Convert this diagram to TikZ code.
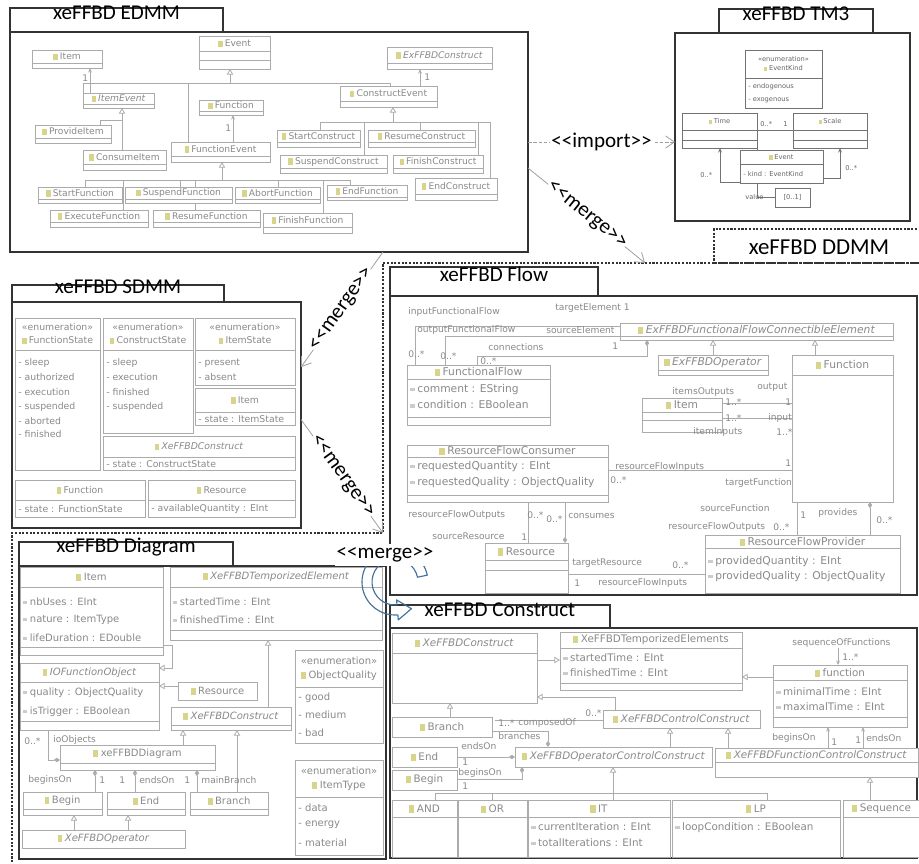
\documentclass[tikz,border=0pt]{standalone}
\usepackage{fontspec}
\newfontfamily\cfont{Carlito}
\newfontfamily\umlfont{DejaVu Sans}
\usetikzlibrary{arrows.meta,calc,fit}
\definecolor{icony}{HTML}{D8D48C}
\definecolor{utext}{HTML}{8A8A8A}
\definecolor{ulinec}{HTML}{ABABAB}
\definecolor{mblue}{HTML}{41719C}
\newcommand\ic{\textcolor{icony}{\rule[-0.1ex]{0.9ex}{1.25ex}}\hspace{0.45ex}}
\newcommand\ai{\textcolor{gray!40}{\rule[0.25ex]{0.75ex}{0.55ex}}\hspace{0.45ex}}
\newcommand\ufs{\fontsize{5.4}{7}\selectfont}
\newcommand\lfs{\fontsize{5.2}{6}\selectfont}
\newcommand\umlc[7]{%
  \node[ubox, fit={(#2,#3)(#4,#5)}] (#1) {};
  \node[uhdr] at ($(#1.north)+(0,#7/2)$) {#6};
  \draw[usep] ($(#1.north west)+(0,#7)$) -- ($(#1.north east)+(0,#7)$);}
\newcommand\umla[3]{\node[uattr] at ($(#1.north west)+(3,#2)$) {#3};}
\newcommand\umls[2]{\draw[usep] ($(#1.north west)+(0,#2)$) -- ($(#1.north east)+(0,#2)$);}
\tikzset{
  ubox/.style={draw=ulinec, line width=0.45pt, fill=white, inner sep=0pt, outer sep=0pt},
  uhdr/.style={font=\umlfont\ufs, text=utext, inner sep=0pt, align=center},
  uattr/.style={font=\umlfont\ufs, text=utext, inner sep=0pt, anchor=west},
  usep/.style={draw=ulinec, line width=0.4pt},
  ul/.style={draw=ulinec, line width=0.45pt},
  gen/.style={ul, -{Triangle[open, length=3.2pt, width=3.6pt]}},
  comp/.style={ul, -{Diamond[length=3.6pt, width=2.4pt]}},
  nav/.style={ul, -{Stealth[length=2.6pt, width=2.2pt]}},
  lbl/.style={font=\umlfont\lfs, text=utext, inner sep=0pt, anchor=west},
  pkgframe/.style={draw=black!80, line width=0.75pt, inner sep=0pt, outer sep=0pt},
  pkgtab/.style={pkgframe, font=\cfont\fontsize{12}{14}\selectfont},
  ddash/.style={draw=black!80, line width=0.6pt, dash pattern=on 1.2pt off 0.9pt},
  rel/.style={draw=gray!75, line width=0.45pt, -{Straight Barb[length=5pt, width=7pt]}},
  reltxt/.style={font=\cfont\fontsize{12}{14}\selectfont, fill=white, inner sep=0.5pt},
}
\begin{document}
\begin{tikzpicture}[x=0.02cm, y=-0.02cm]
\useasboundingbox (0,0) rectangle (919,864);
\fill[white] (0,0) rectangle (919,864);
\clip (0,0) rectangle (919,864);

% ---------------- package frames ----------------
\node[pkgtab, fit={(10,8)(223,32)}] (edmmTab) {xeFFBD EDMM};
\node[pkgframe, fit={(10,32)(528,252)}] (edmm) {};
\node[pkgtab, fit={(719,9)(873,33)}] (tm3Tab) {xeFFBD TM3};
\node[pkgframe, fit={(675,33)(910,221)}] (tm3) {};
\node[pkgtab, fit={(12,285)(224,302)}] (sdmmTab) {xeFFBD SDMM};
\node[pkgframe, fit={(12,302)(301,528)}] (sdmm) {};
\node[pkgtab, fit={(390,267)(598,296)}] (flowTab) {xeFFBD Flow};
\node[pkgframe, fit={(390,296)(917,595)}] (flow) {};
\node[pkgtab, fit={(19,542)(233,566)}] (diagTab) {xeFFBD Diagram};
\node[pkgframe, fit={(19,566)(386,859)}] (diag) {};
\node[pkgtab, fit={(390,605)(610,628)}] (consTab) {xeFFBD Construct};
\node[pkgframe, fit={(390,628)(917,858)}] (cons) {};
% DDMM (dashed)
\node[pkgframe, ddash, fit={(714,229)(935,263)}] (ddmmTab) {};
\node[font=\cfont\fontsize{13}{15}\selectfont, inner sep=0pt] (ddmmTxt) at (819,247) {xeFFBD DDMM};
\draw[ddash] (935,263) -- (383,263) -- (383,533) -- (12,533) -- (12,870);
\coordinate (ddmmTop) at (645,263);
\coordinate (ddmmCorner) at (383,533);

% ---------------- EDMM content ----------------
\begin{scope}
\renewcommand\ufs{\fontsize{5.2}{6.5}\selectfont}
\renewcommand\lfs{\fontsize{5.2}{6.5}\selectfont}
\draw[ul] (83,93) -- (83,83) -- (390,83) -- (390,86);
\draw[ul] (188,83) -- (188,142);
\draw[gen] (230,83) -- (230,69);
\draw[nav] (90,93) -- (90,68);
\draw[ul] (100,125) |- (122,120) -- (122,150);
\draw[gen] (122,120) -- (122,108);
\draw[nav] (233,142) -- (233,115);
\draw[ul] (85,187) |- (350,180) -- (350,185);
\draw[ul] (123,180) -- (123,210);
\draw[ul] (180,180) -- (180,187);
\draw[ul] (195,180) -- (195,210);
\draw[ul] (278,180) -- (278,187);
\draw[ul] (323,180) -- (323,213);
\draw[gen] (222,180) -- (222,162);
\draw[ul] (320,130) |- (490,122) -- (490,178);
\draw[ul] (364,122) -- (364,155);
\draw[ul] (420,122) -- (420,130);
\draw[ul] (478,122) -- (478,155);
\draw[gen] (393,122) -- (393,107);
\draw[nav] (420,86) -- (420,69);
\umlc{eItem}{32}{50}{102}{68}{\ic Item}{13}
\umlc{eEvent}{199}{36}{270}{69}{\ic Event}{15}
\umls{eEvent}{24}
\umlc{eExC}{387}{47}{492}{69}{\ic\textit{ExFFBDConstruct}}{16}
\umlc{eItemEv}{83}{93}{154}{108}{\ic\textit{ItemEvent}}{11}
\umlc{eFunc}{199}{100}{263}{115}{\ic Function}{11}
\umlc{eConsEv}{340}{86}{437}{107}{\ic ConstructEvent}{15}
\umlc{eProv}{35}{125}{111}{143}{\ic ProvideItem}{13}
\umlc{eCons}{83}{150}{166}{170}{\ic ConsumeItem}{14}
\umlc{eFuncEv}{171}{142}{270}{162}{\ic FunctionEvent}{14}
\umlc{eStartC}{277}{130}{360}{147}{\ic StartConstruct}{12}
\umlc{eResC}{368}{130}{475}{147}{\ic ResumeConstruct}{12}
\umlc{eSusC}{280}{155}{387}{173}{\ic SuspendConstruct}{13}
\umlc{eFinC}{393}{155}{483}{173}{\ic FinishConstruct}{13}
\umlc{eEndC}{415}{178}{497}{200}{\ic EndConstruct}{16}
\umlc{eStartF}{38}{187}{122}{203}{\ic StartFunction}{12}
\umlc{eSusF}{125}{187}{232}{203}{\ic SuspendFunction}{12}
\umlc{eAbF}{235}{187}{320}{203}{\ic AbortFunction}{12}
\umlc{eEndF}{327}{185}{407}{200}{\ic EndFunction}{12}
\umlc{eExF}{50}{210}{148}{227}{\ic ExecuteFunction}{12}
\umlc{eResF}{153}{210}{260}{227}{\ic ResumeFunction}{12}
\umlc{eFinF}{263}{213}{352}{233}{\ic FinishFunction}{14}
\node[lbl] at (82,78) {1};
\node[lbl] at (225,128) {1};
\node[lbl] at (424,77) {1};
\end{scope}

% ---------------- TM3 content ----------------
\begin{scope}
\colorlet{ulinec}{black!55}
\colorlet{utext}{black!60}
\renewcommand\ufs{\fontsize{3.8}{5.2}\selectfont}
\renewcommand\lfs{\fontsize{3.8}{5}\selectfont}
\draw[nav] (720,182) -- (720,148);
\draw[ul] (720,182) -- (740,182);
\draw[nav] (823,178) -| (840,148);
\draw[ul] (757,130) -- (793,130);
\draw[ul] (757,148) |- (775,197);
\umlc{tEnum}{745}{50}{822}{108}{«enumeration»\\\ic EventKind}{28}
\umla{tEnum}{37}{- endogenous}
\umla{tEnum}{50}{- exogenous}
\umlc{tTime}{682}{113}{757}{148}{\ic Time}{17}
\umls{tTime}{27}
\umlc{tScale}{793}{113}{867}{148}{\ic Scale}{17}
\umls{tScale}{27}
\umlc{tEvent}{740}{150}{823}{183}{\ic Event}{14}
\umla{tEvent}{24}{- kind : EventKind}
\umlc{tW}{775}{188}{810}{207}{[0..1]}{19}
\node[lbl] at (760,124) {0..*};
\node[lbl] at (783,124) {1};
\node[lbl] at (700,175) {0..*};
\node[lbl] at (845,168) {0..*};
\node[lbl] at (745,197) {value};
\end{scope}

% ---------------- SDMM content ----------------
\begin{scope}
\renewcommand\ufs{\fontsize{5.3}{7.4}\selectfont}
\umlc{sFS}{15}{318}{100}{470}{«enumeration»\\\ic FunctionState}{32}
\umla{sFS}{45}{- sleep}
\umla{sFS}{59}{- authorized}
\umla{sFS}{74}{- execution}
\umla{sFS}{89}{- suspended}
\umla{sFS}{103}{- aborted}
\umla{sFS}{116}{- finished}
\umlc{sCS}{103}{318}{193}{433}{«enumeration»\\\ic ConstructState}{32}
\umla{sCS}{45}{- sleep}
\umla{sCS}{59}{- execution}
\umla{sCS}{74}{- finished}
\umla{sCS}{89}{- suspended}
\umlc{sIS}{195}{318}{295}{385}{«enumeration»\\\ic ItemState}{32}
\umla{sIS}{45}{- present}
\umla{sIS}{59}{- absent}
\umlc{sItem}{195}{388}{295}{425}{\ic Item}{24}
\umla{sItem}{31}{- state : ItemState}
\umlc{sXC}{103}{436}{295}{470}{\ic\textit{XeFFBDConstruct}}{21}
\umla{sXC}{28}{- state : ConstructState}
\umlc{sFunc}{15}{480}{145}{517}{\ic Function}{20}
\umla{sFunc}{29}{- state : FunctionState}
\umlc{sRes}{148}{480}{295}{517}{\ic Resource}{20}
\umla{sRes}{29}{- availableQuantity : EInt}
\end{scope}

% ---------------- Flow content ----------------
\begin{scope}
\renewcommand\ufs{\fontsize{6.1}{7.5}\selectfont}
\draw[ul] (415,365) |- (620,326);
\draw[ul] (445,365) |- (620,336);
\draw[comp] (477,365) -- (477,356) -| (647,340);
\draw[gen] (713,355) -- (713,340);
\draw[gen] (815,355) -- (815,340);
\draw[ul] (722,403) -- (792,403);
\draw[ul] (722,418) -- (792,418);
\draw[ul] (608,470) -- (792,470);
\draw[ul] (528,502) -- (528,543);
\draw[comp] (565,502) -- (565,543);
\draw[ul] (568,574) -- (705,574);
\draw[ul] (797,502) -- (797,535);
\draw[comp] (870,535) -- (870,502);
\umlc{fEl}{620}{323}{893}{340}{\ic\textit{ExFFBDFunctionalFlowConnectibleElement}}{13}
\umlc{fFF}{407}{365}{550}{425}{\ic FunctionalFlow}{14}
\umla{fFF}{25}{\ai comment : EString}
\umla{fFF}{40}{\ai condition : EBoolean}
\umls{fFF}{52}
\umlc{fOp}{658}{355}{768}{375}{\ic\textit{ExFFBDOperator}}{15}
\umlc{fFunc}{792}{355}{893}{502}{\ic Function}{20}
\umlc{fItem}{642}{398}{722}{432}{\ic Item}{14}
\umls{fItem}{22}
\umlc{fRFC}{407}{445}{608}{502}{\ic ResourceFlowConsumer}{12}
\umla{fRFC}{22}{\ai requestedQuantity : EInt}
\umla{fRFC}{38}{\ai requestedQuality : ObjectQuality}
\umls{fRFC}{50}
\umlc{fRes}{485}{543}{568}{593}{\ic Resource}{17}
\umls{fRes}{27}
\umlc{fRFP}{705}{535}{900}{593}{\ic ResourceFlowProvider}{13}
\umla{fRFP}{27}{\ai providedQuantity : EInt}
\umla{fRFP}{42}{\ai providedQuality : ObjectQuality}
\node[lbl] at (408,312) {inputFunctionalFlow};
\node[lbl] at (417,330) {outputFunctionalFlow};
\node[lbl] at (555,308) {targetElement 1};
\node[lbl] at (546,330) {sourceElement};
\node[lbl] at (488,347) {connections};
\node[lbl] at (612,346) {1};
\node[lbl] at (408,354) {0..*};
\node[lbl] at (440,356) {0..*};
\node[lbl] at (480,361) {0..*};
\node[lbl] at (672,392) {itemsOutputs};
\node[lbl] at (757,387) {output};
\node[lbl] at (725,402) {1..*};
\node[lbl] at (785,402) {1};
\node[lbl] at (725,418) {1..*};
\node[lbl] at (768,418) {input};
\node[lbl] at (693,432) {itemInputs};
\node[lbl] at (776,432) {1..*};
\node[lbl] at (615,467) {resourceFlowInputs};
\node[lbl] at (785,463) {1};
\node[lbl] at (610,480) {0..*};
\node[lbl] at (725,483) {targetFunction};
\node[lbl] at (408,515) {resourceFlowOutputs};
\node[lbl] at (527,515) {0..*};
\node[lbl] at (546,519) {0..*};
\node[lbl] at (568,516) {consumes};
\node[lbl] at (700,508) {sourceFunction};
\node[lbl] at (800,515) {1};
\node[lbl] at (818,513) {provides};
\node[lbl] at (876,520) {0..*};
\node[lbl] at (668,527) {resourceFlowOutputs};
\node[lbl] at (773,527) {0..*};
\node[lbl] at (432,536) {sourceResource};
\node[lbl] at (521,537) {1};
\node[lbl] at (572,563) {targetResource};
\node[lbl] at (672,565) {0..*};
\node[lbl] at (574,583) {1};
\node[lbl] at (598,583) {resourceFlowInputs};
\end{scope}

% ---------------- Diagram content ----------------
\begin{scope}
\renewcommand\ufs{\fontsize{5.7}{8}\selectfont}
\draw[gen] (163,645) -| (172,668) -- (159,668);
\draw[gen] (178,686) -- (159,686);
\draw[gen] (268,707) -- (268,640);
\draw[gen] (183,745) -- (183,730);
\draw[gen] (237,792) -- (237,730);
\draw[comp] (95,792) -- (95,770);
\draw[comp] (135,792) -- (135,770);
\draw[comp] (197,792) -- (197,770);
\draw[comp] (48,730) |- (60,760);
\draw[gen] (74,830) -- (74,815);
\draw[gen] (128,830) -- (128,815);
\umlc{dItem}{20}{567}{163}{655}{\ic Item}{20}
\umla{dItem}{35}{\ai nbUses : EInt}
\umla{dItem}{53}{\ai nature : ItemType}
\umla{dItem}{71}{\ai lifeDuration : EDouble}
\umls{dItem}{80}
\umlc{dIO}{20}{663}{159}{730}{\ic\textit{IOFunctionObject}}{19}
\umla{dIO}{30}{\ai quality : ObjectQuality}
\umla{dIO}{49}{\ai isTrigger : EBoolean}
\umls{dIO}{58}
\umlc{dTE}{170}{567}{382}{640}{\ic\textit{XeFFBDTemporizedElement}}{20}
\umla{dTE}{35}{\ai startedTime : EInt}
\umla{dTE}{53}{\ai finishedTime : EInt}
\umls{dTE}{63}
\umlc{dRes}{178}{682}{257}{700}{\ic Resource}{18}
\umlc{dXC}{171}{707}{291}{730}{\ic\textit{XeFFBDConstruct}}{18}
\umlc{dOQ}{295}{650}{383}{743}{«enumeration»\\\ic ObjectQuality}{37}
\umla{dOQ}{48}{- good}
\umla{dOQ}{65}{- medium}
\umla{dOQ}{83}{- bad}
\umlc{dIT}{295}{760}{383}{855}{«enumeration»\\\ic ItemType}{37}
\umla{dIT}{48}{- data}
\umla{dIT}{65}{- energy}
\umla{dIT}{83}{- material}
\umlc{dDiag}{60}{745}{215}{770}{\ic xeFFBDDiagram}{18}
\umlc{dBegin}{23}{792}{102}{815}{\ic Begin}{17}
\umlc{dEnd}{107}{792}{185}{815}{\ic End}{17}
\umlc{dBranch}{190}{792}{268}{815}{\ic Branch}{17}
\umlc{dOp}{22}{830}{185}{848}{\ic\textit{XeFFBDOperator}}{18}
\node[lbl] at (24,741) {0..*};
\node[lbl] at (53,740) {ioObjects};
\node[lbl] at (28,780) {beginsOn};
\node[lbl] at (99,780) {1};
\node[lbl] at (119,780) {1};
\node[lbl] at (139,780) {endsOn};
\node[lbl] at (184,780) {1};
\node[lbl] at (201,780) {mainBranch};
\end{scope}

% ---------------- Construct content ----------------
\begin{scope}
\renewcommand\ufs{\fontsize{5.9}{7.5}\selectfont}
\draw[gen] (537,660) -- (560,660);
\draw[gen] (615,710) |- (537,697);
\draw[gen] (450,717) -- (450,703);
\draw[ul] (603,720) -- (495,720);
\draw[comp] (492,731) -| (548,747);
\draw[comp] (457,757) -- (515,757);
\draw[comp] (457,779) -| (522,767);
\draw[gen] (670,747) -- (670,728);
\draw[gen] (728,748) -- (728,728);
\draw[ul] (435,800) |- (767,793) -- (767,800);
\draw[ul] (492,800) -- (492,793);
\draw[gen] (613,800) -- (613,767);
\draw[gen] (870,800) -- (870,777);
\draw[gen] (773,677) -- (742,677);
\draw[nav] (828,748) -- (828,727);
\draw[nav] (863,748) -- (863,727);
\draw[nav] (838,648) -- (838,665);
\umlc{cXC}{392}{633}{537}{703}{\ic\textit{XeFFBDConstruct}}{20}
\umlc{cTE}{560}{632}{742}{690}{\ic XeFFBDTemporizedElements}{16}
\umla{cTE}{26}{\ai startedTime : EInt}
\umla{cTE}{41}{\ai finishedTime : EInt}
\umls{cTE}{51}
\umlc{cFn}{773}{665}{907}{727}{\ic function}{15}
\umla{cFn}{27}{\ai minimalTime : EInt}
\umla{cFn}{42}{\ai maximalTime : EInt}
\umls{cFn}{52}
\umlc{cCC}{603}{710}{760}{728}{\ic\textit{XeFFBDControlConstruct}}{18}
\umlc{cBranch}{392}{717}{492}{737}{\ic Branch}{20}
\umlc{cEnd}{392}{747}{457}{767}{\ic End}{20}
\umlc{cBegin}{392}{770}{457}{790}{\ic Begin}{20}
\umlc{cOCC}{515}{747}{712}{767}{\ic\textit{XeFFBDOperatorControlConstruct}}{20}
\umlc{cFCC}{715}{748}{918}{777}{\ic\textit{XeFFBDFunctionControlConstruct}}{14}
\umlc{cAND}{392}{800}{457}{857}{\ic AND}{17}
\umlc{cOR}{458}{800}{527}{857}{\ic OR}{17}
\umlc{cIT}{528}{800}{670}{857}{\ic IT}{17}
\umla{cIT}{27}{\ai currentIteration : EInt}
\umla{cIT}{43}{\ai totalIterations : EInt}
\umlc{cLP}{672}{800}{840}{857}{\ic LP}{17}
\umla{cLP}{28}{\ai loopCondition : EBoolean}
\umlc{cSeq}{843}{800}{920}{857}{\ic Sequence}{17}
\node[lbl] at (792,643) {sequenceOfFunctions};
\node[lbl] at (842,657) {1..*};
\node[lbl] at (498,723) {1..*};
\node[lbl] at (518,723) {composedOf};
\node[lbl] at (585,713) {0..*};
\node[lbl] at (498,736) {branches};
\node[lbl] at (461,746) {endsOn};
\node[lbl] at (462,762) {1};
\node[lbl] at (458,773) {beginsOn};
\node[lbl] at (462,786) {1};
\node[lbl] at (772,738) {beginsOn};
\node[lbl] at (831,742) {1};
\node[lbl] at (855,740) {1};
\node[lbl] at (866,738) {endsOn};
\end{scope}

% ---------------- package relations ----------------
\draw[rel, dash pattern=on 2pt off 1pt] (edmm.east) -- (edmm.east -| tm3.west)
  node[midway, reltxt] {<<import>>};
\draw[rel] ($(edmm.north east)!0.618!(edmm.south east)$) -- (ddmmTop)
  node[midway, sloped, reltxt] {<<merge>>};
\draw[rel] ($(edmm.south west)!0.72!(edmm.south east)$) -- ($(sdmm.north east)!0.288!(sdmm.south east)$)
  node[midway, sloped, reltxt] {<<merge>>};
\draw[rel] ($(sdmm.north east)!0.52!(sdmm.south east)$) -- (ddmmCorner)
  node[midway, sloped, reltxt] {<<merge>>};

% curved merge arrow into Construct
\coordinate (mC) at (395,582);
\draw[mblue, line width=0.65pt, line join=round]
  ($(mC)+(-12:33)$) arc[start angle=-12, end angle=-275, radius=33]
  -- ($(mC)+(85:38)$) -- ($(mC)+(85:28)+(14,-1.2)$) -- ($(mC)+(85:18)$)
  -- ($(mC)+(85:23)$) arc[start angle=-275, end angle=-12, radius=23] -- cycle;
\node[reltxt, inner xsep=1pt, minimum height=12.5pt] (mlab) at (385,555) {<<merge>>};
\end{tikzpicture}
\end{document}
